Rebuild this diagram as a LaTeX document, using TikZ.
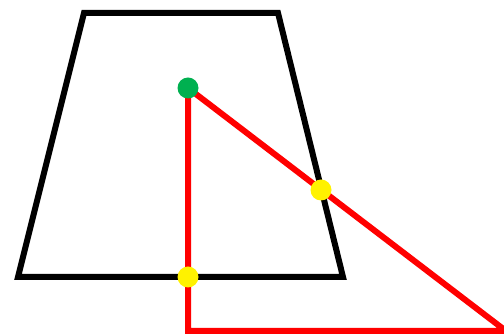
\documentclass[tikz,border=0pt]{standalone}
\begin{document}
\begin{tikzpicture}[x=1pt,y=-1pt,
  blackline/.style={draw=black,line width=6pt,line join=miter},
  redline/.style={draw=red,line width=6pt,line join=miter},
  dot/.style={circle,inner sep=0pt,minimum size=21pt}]
\useasboundingbox (0,0) rectangle (504,336);
\clip (0,0) rectangle (504,336);
\coordinate (tl) at (84,13);
\coordinate (tr) at (278,13);
\coordinate (br) at (343,277);
\coordinate (bl) at (18,277);
\draw[blackline] (tl) -- (tr) -- (br) -- (bl) -- cycle;
\coordinate (g) at (188,88);
\coordinate (c) at (188,331);
\coordinate (e) at (506,331);
\draw[redline] (g) -- (c) -- (e) -- cycle;
\node[dot,fill={rgb,255:red,0;green,176;blue,80}] (green) at (g) {};
\node[dot,fill=yellow] (y1) at (321,190) {};
\node[dot,fill=yellow] (y2) at (188,277) {};
\end{tikzpicture}
\end{document}
